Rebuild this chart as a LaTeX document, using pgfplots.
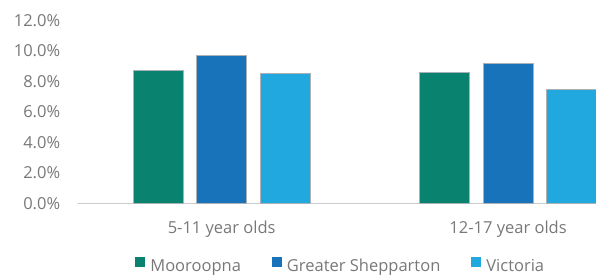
\documentclass[border=0pt]{standalone}
\usepackage{pgfplots}
\pgfplotsset{compat=1.18}
\usepackage{fontspec}
\setmainfont{Open Sans}
\definecolor{teal1}{RGB}{10,130,112}
\definecolor{blue1}{RGB}{25,115,186}
\definecolor{sky1}{RGB}{33,168,222}
\definecolor{txt}{RGB}{120,120,120}
\definecolor{edge}{RGB}{170,178,184}
\definecolor{axl}{RGB}{205,205,205}
\begin{document}
\begin{tikzpicture}[x=1pt,y=1pt]
\useasboundingbox (0,0) rectangle (596,275);
\clip (0,0) rectangle (596,275);
\begin{axis}[
  at={(77.3pt,71.7pt)}, anchor=south west,
  scale only axis, width=518.7pt, height=182.8pt,
  ymin=0, ymax=12, ytick={0,2,...,12},
  xmin=-0.504, xmax=1.307,
  xtick={0,1}, xticklabels={5-11 year olds,12-17 year olds},
  axis line style={draw=none},
  major tick length=0pt,
  tick style={draw=none},
  /pgf/number format/assume math mode=true,
  yticklabel={\pgfmathprintnumber[fixed,fixed zerofill,precision=1]{\tick}\%},
  ticklabel style={font=\fontsize{16.5}{18}\selectfont, text=txt},
  yticklabel style={anchor=east, inner sep=0pt, xshift=-17pt},
  xticklabel style={anchor=north, inner sep=0pt, yshift=-17pt},
  ybar=13.5pt, bar width=50pt,
  legend columns=3,
  legend style={at={(0.506,-0.338)}, anchor=center, draw=none, fill=none,
    font=\fontsize{16.5}{18}\selectfont, text=txt,
    nodes={inner sep=0pt},
    /tikz/every odd column/.append style={column sep=5pt},
    /tikz/every even column/.append style={column sep=31pt}},
  legend image code/.code={\fill[#1,draw=none] (0pt,-1pt) rectangle (10pt,9pt);},
]
\draw[axl, line width=2.2pt] ([yshift=-1.3pt]rel axis cs:0,0) -- ([yshift=-1.3pt]rel axis cs:1,0);
\addplot[fill=teal1, draw=edge, line width=0.8pt] coordinates {(0,8.7) (1,8.6)};
\addplot[fill=blue1, draw=edge, line width=0.8pt] coordinates {(0,9.7) (1,9.2)};
\addplot[fill=sky1, draw=edge, line width=0.8pt] coordinates {(0,8.5) (1,7.5)};
\legend{Mooroopna, Greater Shepparton, Victoria}
\end{axis}
\end{tikzpicture}
\end{document}
